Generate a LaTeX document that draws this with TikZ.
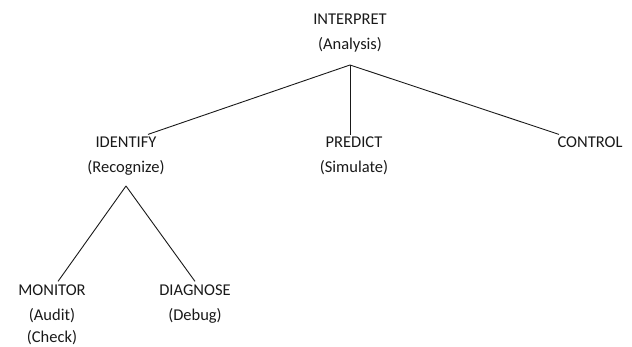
\documentclass[tikz,border=0pt]{standalone}
\usepackage{fontspec}
\setmainfont{Carlito}
\begin{document}
\begin{tikzpicture}[x=1pt,y=-1pt,
  lbl/.style={inner sep=0pt, align=center, anchor=north, text=black!90,
    font=\fontsize{16.5}{24.5}\selectfont},
  edge/.style={line width=0.9pt, black!90}]
\useasboundingbox (0,0) rectangle (632,347);
\node[lbl] (interpret) at (350,7.4) {\strut INTERPRET\\\strut (Analysis)};
\node[lbl] (identify) at (126,130.4) {\strut IDENTIFY\\\strut (Recognize)};
\node[lbl] (predict) at (354,130.4) {\strut PREDICT\\\strut (Simulate)};
\node[lbl] (control) at (590,130.4) {\strut CONTROL};
\node[lbl] (monitor) at (52,278.4) {\strut MONITOR\\\strut (Audit)\\[-2pt]\strut (Check)};
\node[lbl] (diagnose) at (195,278.4) {\strut DIAGNOSE\\\strut (Debug)};
\coordinate (apex) at (350,65);
\coordinate (apex2) at (126,186);
\draw[edge] (apex) -- ([xshift=22pt,yshift=-4pt]identify.north);
\draw[edge] (apex) -- ([xshift=-4pt,yshift=-5pt]predict.north);
\draw[edge] (apex) -- ([xshift=-31pt,yshift=-4pt]control.north);
\draw[edge] (apex2) -- ([xshift=6pt,yshift=-3pt]monitor.north);
\draw[edge] (apex2) -- ([yshift=-3pt]diagnose.north);
\end{tikzpicture}
\end{document}
